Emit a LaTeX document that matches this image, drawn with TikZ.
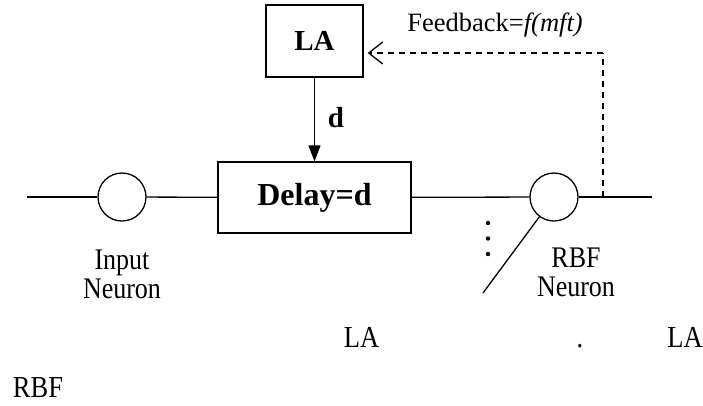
\documentclass[tikz,border=0pt]{standalone}
\usepackage{fontspec}
\setmainfont{Liberation Serif}
\usetikzlibrary{arrows.meta}
\newcommand{\tallt}[1]{\scalebox{1}[1.15]{#1}}
\begin{document}
\begin{tikzpicture}[x=1pt,y=-1pt,
  line width=1.3pt,
  box/.style={draw, line width=1.3pt, inner sep=0pt, font=\bfseries},
  neuron/.style={draw, circle, line width=1.3pt, minimum size=48pt, inner sep=0pt},
  lab/.style={font=\fontsize{26}{29}\selectfont, inner sep=0pt, align=center},
  bot/.style={font=\fontsize{26.5}{29}\selectfont, inner sep=0pt, anchor=base},
  fbline/.style={dash pattern=on 6pt off 5pt, line width=1.3pt}
]
\useasboundingbox (0,0) rectangle (703,405);

% boxes
\node[box, minimum width=97pt, minimum height=72pt, font=\fontsize{29}{32}\bfseries\selectfont] (la) at (314.5,41) {LA};
\node[box, minimum width=193pt, minimum height=71pt, font=\fontsize{32}{34}\bfseries\selectfont] (delay) at (314.5,197.5) {Delay=d};

% neurons
\node[neuron] (inp) at (122,197) {};
\node[neuron] (rbf) at (554,197) {};

% coordinates
\coordinate (lstart) at (27,197);
\coordinate (rend) at (652,197);
\coordinate (fb) at (603,197);
\coordinate (fbtop) at (603,53);
\coordinate (diag) at (483,293);

% main line
\draw (lstart) -- (inp);
\draw (inp) -- (delay);
\draw (delay) -- (rbf);
\draw (rbf) -- (rend);
\draw (diag) -- (rbf);

% LA -> Delay
\draw[-{Triangle[width=12pt,length=16pt]}] (la) -- (delay);
\node[font=\fontsize{29}{30}\bfseries\selectfont, anchor=base, inner sep=0pt] (dlab) at (336,127) {d};

% feedback
\draw[fbline] (fb) -- (fbtop);
\draw[fbline, -{Straight Barb[length=14pt,width=22pt,line width=1.3pt]}, shorten >=4pt] (fbtop) -- (la.east |- fbtop);
\node[lab, anchor=base, font=\fontsize{26.5}{29}\selectfont] (fblab) at (495,31) {Feedback=\textit{f(mft)}};

% dots
\fill (488,223) circle (2.2pt) coordinate (d1);
\fill (488,238.5) circle (2.2pt) coordinate (d2);
\fill (488,254) circle (2.2pt) coordinate (d3);

% labels
\node[lab, anchor=north] (inplab) at (122,249) {\tallt{Input}\\\tallt{Neuron}};
\node[lab, anchor=north] (rbflab) at (576,247) {\tallt{RBF}\\\tallt{Neuron}};

% bottom text
\node[bot] (t1) at (361.5,347) {\tallt{LA}};
\node[bot] (t2) at (580,347) {\tallt{.}};
\node[bot] (t3) at (685,347) {\tallt{LA}};
\node[bot] (t4) at (38,397) {\tallt{RBF}};
\end{tikzpicture}
\end{document}
